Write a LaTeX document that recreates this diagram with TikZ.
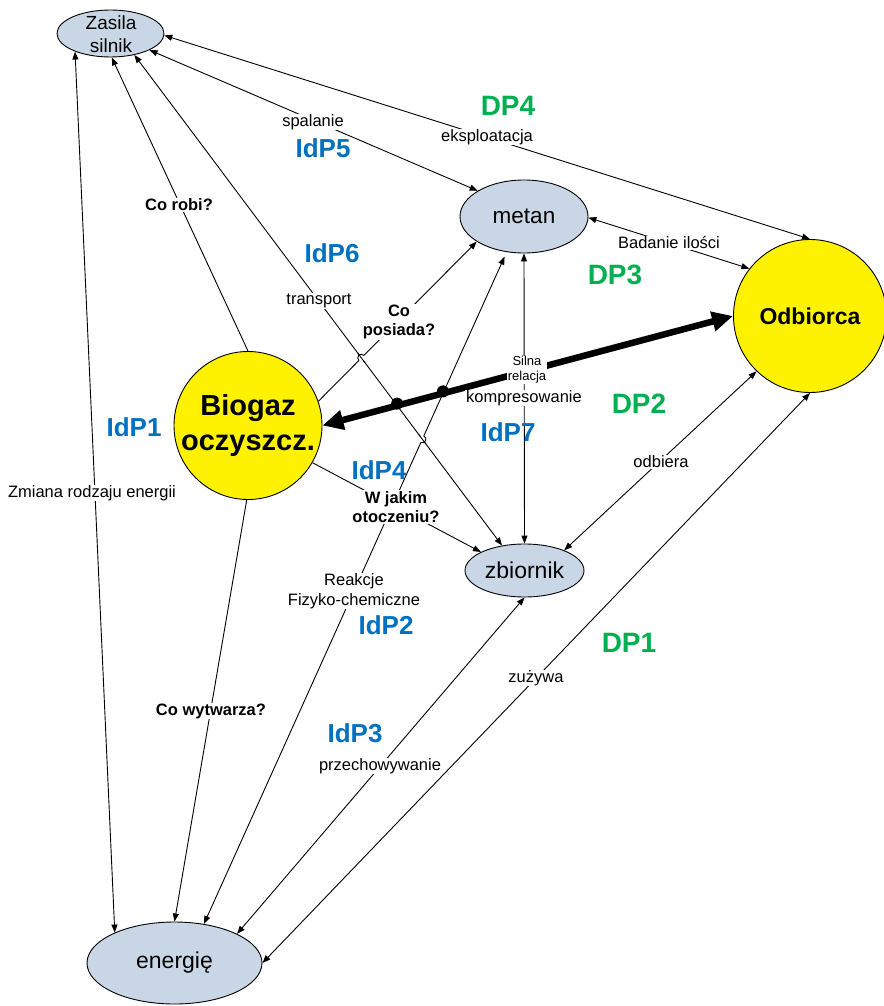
\documentclass[tikz,border=0pt]{standalone}
\usepackage{fontspec}
\setmainfont{Liberation Sans}
\usetikzlibrary{shapes.geometric,arrows.meta,calc,intersections}

\definecolor{nodeblue}{RGB}{201,214,229}
\definecolor{idpblue}{RGB}{0,112,192}
\definecolor{dpgreen}{RGB}{0,176,80}

\tikzset{
  ell/.style={ellipse, draw=black, fill=nodeblue, inner sep=0pt, line width=0.9pt},
  ball/.style={circle, draw=black, fill=yellow, inner sep=0pt, line width=0.9pt},
  thin/.style={line width=0.9pt},
  link/.style={thin, {Triangle[length=8pt,width=6pt]}-{Triangle[length=8pt,width=6pt]}},
  tolink/.style={thin, -{Triangle[length=8pt,width=6pt]}},
  strong/.style={line width=6.5pt, {Triangle[length=21pt,width=19pt]}-{Triangle[length=21pt,width=19pt]}},
  lbl/.style={fill=white, inner sep=0.8pt, align=center, font=\fontsize{16.5}{19.5}\selectfont},
  qlbl/.style={lbl, font=\bfseries\fontsize{16.5}{19.5}\selectfont},
  idp/.style={text=idpblue, inner sep=0pt, font=\bfseries\fontsize{26}{30}\selectfont},
  dp/.style={text=dpgreen, inner sep=0pt, font=\bfseries\fontsize{28}{32}\selectfont},
}

\begin{document}
\begin{tikzpicture}[x=1pt,y=-1pt]
\useasboundingbox (0,0) rectangle (883,1006);

% ---------- nodes ----------
\node[ell, minimum width=107pt, minimum height=47pt] (zasila) at (110.5,33.5) {};
\node[align=center, inner sep=0pt, font=\fontsize{19}{23}\selectfont] (zasilaT) at (111,34) {Zasila\\silnik};
\node[ell, minimum width=128pt, minimum height=73pt, font=\fontsize{22.5}{26}\selectfont] (metan) at (524,216.5) {metan};
\node[ell, minimum width=119pt, minimum height=53pt, font=\fontsize{23}{27}\selectfont] (zbiornik) at (524.5,570.5) {zbiornik};
\node[ell, minimum width=175pt, minimum height=82pt, font=\fontsize{23}{27}\selectfont] (energie) at (174.5,963) {energię};
\node[ball, minimum size=148pt] (biogaz) at (248,425.5) {};
\node[align=center, inner sep=0pt, font=\bfseries\fontsize{29}{35}\selectfont] (biogazT) at (248,425) {Biogaz\\oczyszcz.};
\node[ball, minimum size=153pt, font=\bfseries\fontsize{23}{27}\selectfont] (odbiorca) at (810,316) {Odbiorca};

% ---------- connectors ----------
\draw[link] (zasila.207) -- (energie.153);
\draw[tolink] (biogaz.90) -- (zasila.273);
\draw[link, name path=T] (zasila.318) -- (zbiornik.132);
\draw[link] (zasila.337) -- (metan.151);
\draw[link] (zasila.358) -- (odbiorca.90);
\draw[link] (metan.359) -- (odbiorca.142);
\draw[tolink, name path=P] (biogaz.19) -- (metan.208);
\draw[link] (metan.270) -- (zbiornik.90);
\draw[link, shorten >=5pt, name path=R] (energie.53) -- (metan.244);
\draw[tolink] (biogaz.330) -- (zbiornik.157);
\draw[tolink] (biogaz.269) -- (energie.90);
\draw[link] (zbiornik.270) -- (energie.25);
\draw[link] (odbiorca.226) -- (zbiornik.27);
\draw[link] (odbiorca.270) -- (energie.0);
\draw[strong, name path=S] (odbiorca.180) -- (biogaz.0);

% ---------- line jumps ----------
\path[name intersections={of=T and P, by=xTP}];
\path[name intersections={of=T and R, by=xTR}];
\path[name intersections={of=S and T, by=xST}];
\path[name intersections={of=S and R, by=xSR}];

\fill[white] (xTP) circle (3.6pt);
\fill[white] (xTR) circle (3.6pt);
\draw[thin] ($(xTP)!6pt!(zasila.318)$) -- ($(xTP)!6pt!(zbiornik.132)$);
\draw[thin] ($(xTR)!6pt!(zasila.318)$) -- ($(xTR)!6pt!(zbiornik.132)$);
\draw[thin] ($(xTP)!3.6pt!(biogaz.19)$) to[out=90,in=90,relative,looseness=1.7] ($(xTP)!3.6pt!(metan.208)$);
\draw[thin] ($(xTR)!3.6pt!(energie.53)$) to[out=-90,in=-90,relative,looseness=1.7] ($(xTR)!3.6pt!(metan.244)$);

\fill ($(xST)+(0,-2)$) circle (6pt);
\fill ($(xSR)+(0,-2)$) circle (6pt);

% ---------- connector labels ----------
\node[lbl] (lZmiana) at (92,493) {Zmiana rodzaju energii};
\node[qlbl] (lRobi) at (179,205) {Co robi?};
\node[lbl] (lSpal) at (313,122) {spalanie};
\node[lbl] (lEksp) at (487,137) {eksploatacja};
\node[lbl] (lTrans) at (319,301) {transport};
\node[qlbl] (lPosiada) at (399,322) {Co\\posiada?};
\node[lbl] (lBadanie) at (669,243) {Badanie ilości};
\node[lbl] (lKompr) at (524,398) {kompresowanie};
\node[lbl, font=\fontsize{13}{15}\selectfont] (lSilna) at (527,370) {Silna\\relacja};
\node[lbl] (lOdbiera) at (661,462) {odbiera};
\node[qlbl] (lOtocz) at (396,507) {W jakim\\otoczeniu?};
\node[lbl] (lReakcje) at (354,591) {Reakcje\\Fizyko-chemiczne};
\node[qlbl] (lWytw) at (211,711) {Co wytwarza?};
\node[lbl] (lZuzywa) at (536,678) {zużywa};
\node[lbl] (lPrzech) at (380,766) {przechowywanie};

% ---------- IdP / DP tags ----------
\node[dp] (dp4) at (508,106) {DP4};
\node[idp] (idp5) at (323,148) {IdP5};
\node[idp] (idp6) at (332,253) {IdP6};
\node[dp] (dp3) at (615,275) {DP3};
\node[dp] (dp2) at (639,404) {DP2};
\node[idp] (idp7) at (508,432) {IdP7};
\node[idp] (idp1) at (134,427) {IdP1};
\node[idp] (idp4) at (379,470) {IdP4};
\node[idp] (idp2) at (386,625) {IdP2};
\node[dp] (dp1) at (629,643) {DP1};
\node[idp] (idp3) at (355,733) {IdP3};
\end{tikzpicture}
\end{document}
